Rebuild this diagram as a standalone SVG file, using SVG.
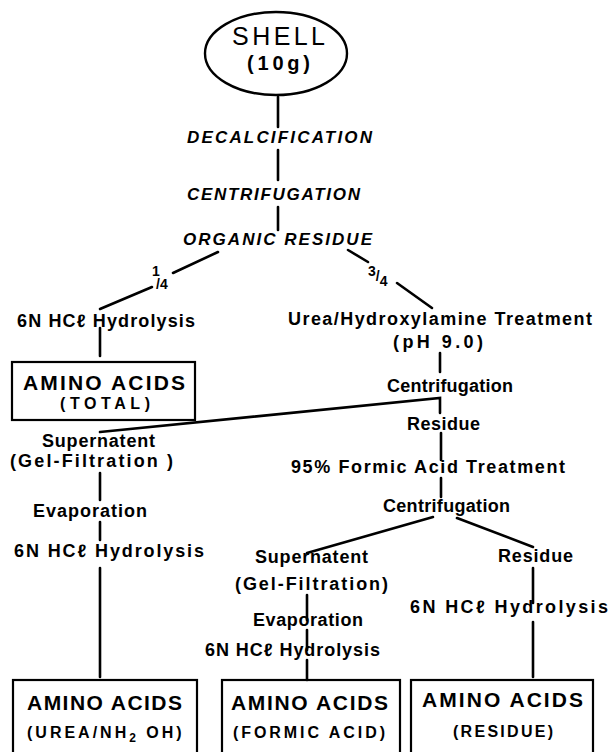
<svg xmlns="http://www.w3.org/2000/svg" width="610" height="752" viewBox="0 0 610 752">
<style>
text{font-family:"Liberation Sans",Arial,sans-serif;fill:#000}
.t{font-size:18px;font-weight:bold}
.i{font-size:17px;font-weight:bold;font-style:italic}
.b1{font-size:21px;font-weight:bold}
.b2{font-size:16px;font-weight:bold}
.f{font-size:14px;font-weight:bold}
.c line,.c polyline{stroke:#000;stroke-width:2.6;fill:none;stroke-linecap:round}
.box{fill:none;stroke:#000;stroke-width:2.2}
</style>
<rect width="610" height="752" fill="#fff"/>
<g id="shell">
<ellipse cx="276" cy="53.5" rx="71" ry="41.5" fill="none" stroke="#000" stroke-width="2.4"/>
<text x="232" y="45" style="font-size:25px" textLength="93" lengthAdjust="spacing">SHELL</text>
<text x="247" y="70" style="font-size:20px;font-weight:bold" textLength="63" lengthAdjust="spacing">(10g)</text>
</g>
<g id="decalcification"><text class="i" x="187" y="143" textLength="185" lengthAdjust="spacing">DECALCIFICATION</text></g>
<g id="centrifugation1"><text class="i" x="187" y="200" textLength="173" lengthAdjust="spacing">CENTRIFUGATION</text></g>
<g id="organic-residue"><text class="i" x="183" y="245" textLength="189" lengthAdjust="spacing">ORGANIC RESIDUE</text></g>
<g id="frac-quarter"><text class="f" x="152" y="276">1<tspan x="156" dy="13">/4</tspan></text></g>
<g id="frac-three-quarter"><text class="f" x="368" y="276">3<tspan dy="5">/</tspan><tspan dy="5">4</tspan></text></g>
<g id="hcl-total"><text class="t" x="17" y="327" textLength="178" lengthAdjust="spacing">6N HCℓ Hydrolysis</text></g>
<g id="urea"><text class="t" x="288" y="325" textLength="304" lengthAdjust="spacing">Urea/Hydroxylamine Treatment</text>
<text class="t" x="393" y="348" textLength="90" lengthAdjust="spacing">(pH 9.0)</text></g>
<g id="total-box"><rect class="box" x="12" y="362" width="183" height="58"/>
<text class="b1" x="23" y="390" textLength="162" lengthAdjust="spacing">AMINO ACIDS</text>
<text class="b2" x="60" y="409" textLength="90" lengthAdjust="spacing">(TOTAL)</text></g>
<g id="centrifugation2"><text class="t" x="387" y="392" textLength="126" lengthAdjust="spacing">Centrifugation</text></g>
<g id="residue1"><text class="t" x="407" y="430" textLength="73" lengthAdjust="spacing">Residue</text></g>
<g id="formic"><text class="t" x="291" y="473" textLength="274" lengthAdjust="spacing">95% Formic Acid Treatment</text></g>
<g id="centrifugation3"><text class="t" x="383" y="512" textLength="127" lengthAdjust="spacing">Centrifugation</text></g>
<g id="supernatent1"><text class="t" x="42" y="447" textLength="113" lengthAdjust="spacing">Supernatent</text>
<text class="t" x="10" y="467" textLength="163" lengthAdjust="spacing">(Gel-Filtration )</text></g>
<g id="evaporation1"><text class="t" x="33" y="517" textLength="114" lengthAdjust="spacing">Evaporation</text></g>
<g id="hcl-urea"><text class="t" x="14" y="557" textLength="190" lengthAdjust="spacing">6N HCℓ Hydrolysis</text></g>
<g id="supernatent2"><text class="t" x="255" y="563" textLength="113" lengthAdjust="spacing">Supernatent</text>
<text class="t" x="235" y="590" textLength="153" lengthAdjust="spacing">(Gel-Filtration)</text></g>
<g id="evaporation2"><text class="t" x="253" y="626" textLength="110" lengthAdjust="spacing">Evaporation</text></g>
<g id="hcl-formic"><text class="t" x="205" y="656" textLength="175" lengthAdjust="spacing">6N HCℓ Hydrolysis</text></g>
<g id="residue2"><text class="t" x="498" y="562" textLength="75" lengthAdjust="spacing">Residue</text></g>
<g id="hcl-residue"><text class="t" x="410" y="613" textLength="198" lengthAdjust="spacing">6N HCℓ Hydrolysis</text></g>
<g id="box-urea"><rect class="box" x="13" y="680" width="184" height="90"/>
<text class="b1" x="27" y="710" textLength="155" lengthAdjust="spacing">AMINO ACIDS</text>
<text class="b2" x="27" y="738" letter-spacing="3">(UREA/NH<tspan font-size="12" dy="4">2</tspan><tspan dy="-4"> OH)</tspan></text></g>
<g id="box-formic"><rect class="box" x="222" y="680" width="178" height="90"/>
<text class="b1" x="231" y="710" textLength="157" lengthAdjust="spacing">AMINO ACIDS</text>
<text class="b2" x="233" y="738" textLength="152" lengthAdjust="spacing">(FORMIC ACID)</text></g>
<g id="box-residue"><rect class="box" x="411" y="680" width="182" height="90"/>
<text class="b1" x="422" y="707" textLength="161" lengthAdjust="spacing">AMINO ACIDS</text>
<text class="b2" x="453" y="737" textLength="100" lengthAdjust="spacing">(RESIDUE)</text></g>
<g id="connectors" class="c">
<line x1="278" y1="97" x2="278" y2="127"/>
<line x1="278" y1="150" x2="278" y2="180"/>
<line x1="278" y1="207" x2="278" y2="230"/>
<line x1="218" y1="252" x2="173" y2="273"/>
<line x1="152" y1="287" x2="100" y2="309"/>
<line x1="348" y1="250" x2="368" y2="262"/>
<line x1="397" y1="283" x2="432" y2="308"/>
<line x1="100" y1="328" x2="100" y2="356"/>
<line x1="440" y1="353" x2="440" y2="372"/>
<polyline points="100,432 440,398 440,413"/>
<line x1="441" y1="433" x2="441" y2="460"/>
<line x1="441" y1="478" x2="441" y2="497"/>
<line x1="433" y1="517" x2="307" y2="553"/>
<line x1="457" y1="518" x2="533" y2="547"/>
<line x1="100" y1="473" x2="100" y2="500"/>
<line x1="100" y1="522" x2="100" y2="540"/>
<line x1="100" y1="568" x2="100" y2="677"/>
<line x1="307" y1="595" x2="307" y2="620"/>
<line x1="307" y1="630" x2="307" y2="650"/>
<line x1="307" y1="660" x2="307" y2="680"/>
<line x1="533" y1="568" x2="533" y2="603"/>
<line x1="533" y1="622" x2="533" y2="677"/>
</g>
</svg>
